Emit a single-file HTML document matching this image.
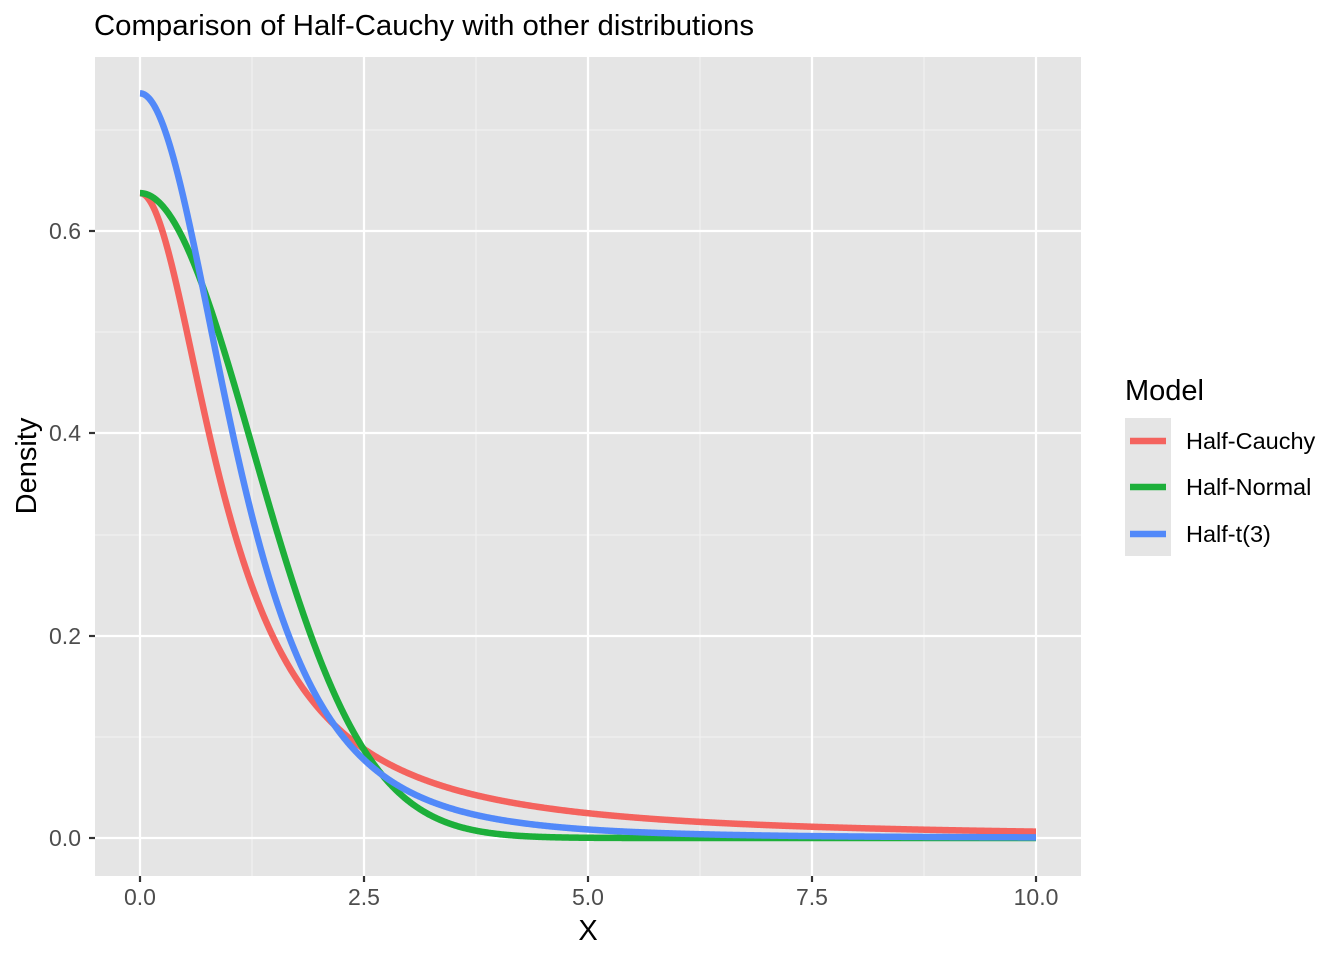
<!DOCTYPE html>
<html><head><meta charset="utf-8"><style>
html,body{margin:0;padding:0;background:#fff;}
svg text{font-family:"Liberation Sans",Arial,sans-serif;}
</style></head><body>
<svg id="s" width="1344" height="960" xmlns="http://www.w3.org/2000/svg">
<rect width="1344" height="960" fill="#fff"/>
<text x="94" y="35" font-size="29" fill="#000" textLength="660" lengthAdjust="spacingAndGlyphs">Comparison of Half-Cauchy with other distributions</text>
<rect x="95" y="57" width="986" height="819" fill="#e5e5e5"/>
<g stroke="#f2f2f2" stroke-width="1.1">
<line x1="252" y1="57" x2="252" y2="876"/><line x1="476" y1="57" x2="476" y2="876"/>
<line x1="700" y1="57" x2="700" y2="876"/><line x1="924" y1="57" x2="924" y2="876"/>
<line x1="95" y1="737" x2="1081" y2="737"/><line x1="95" y1="535" x2="1081" y2="535"/>
<line x1="95" y1="332" x2="1081" y2="332"/><line x1="95" y1="130" x2="1081" y2="130"/>
</g>
<g stroke="#fff" stroke-width="2.2">
<line x1="140" y1="57" x2="140" y2="876"/><line x1="364" y1="57" x2="364" y2="876"/>
<line x1="588" y1="57" x2="588" y2="876"/><line x1="812" y1="57" x2="812" y2="876"/>
<line x1="1036" y1="57" x2="1036" y2="876"/>
<line x1="95" y1="838" x2="1081" y2="838"/><line x1="95" y1="636" x2="1081" y2="636"/>
<line x1="95" y1="433" x2="1081" y2="433"/><line x1="95" y1="231" x2="1081" y2="231"/>
</g>
<g id="curves" fill="none" stroke-width="6.5" stroke-linejoin="round"></g>
<g stroke="#333" stroke-width="2.2">
<line x1="140" y1="876" x2="140" y2="882"/><line x1="364" y1="876" x2="364" y2="882"/>
<line x1="588" y1="876" x2="588" y2="882"/><line x1="812" y1="876" x2="812" y2="882"/>
<line x1="1036" y1="876" x2="1036" y2="882"/>
<line x1="89" y1="838" x2="95" y2="838"/><line x1="89" y1="636" x2="95" y2="636"/>
<line x1="89" y1="433" x2="95" y2="433"/><line x1="89" y1="231" x2="95" y2="231"/>
</g>
<g font-size="23" fill="#4d4d4d" text-anchor="middle">
<text x="140" y="905">0.0</text><text x="364" y="905">2.5</text><text x="588" y="905">5.0</text>
<text x="812" y="905">7.5</text><text x="1036" y="905">10.0</text>
</g>
<g font-size="23" fill="#4d4d4d" text-anchor="end">
<text x="81" y="846">0.0</text><text x="81" y="644">0.2</text><text x="81" y="441">0.4</text><text x="81" y="239">0.6</text>
</g>
<text x="588" y="940" font-size="29" text-anchor="middle" fill="#000">X</text>
<text transform="translate(36,466) rotate(-90)" font-size="29" text-anchor="middle" fill="#000">Density</text>
<text x="1125" y="400" font-size="29" fill="#000">Model</text>
<rect x="1125" y="418" width="46" height="138" fill="#e5e5e5"/>
<g stroke-width="6.5">
<line x1="1130" y1="441" x2="1166" y2="441" stroke="#F4635E"/>
<line x1="1130" y1="487" x2="1166" y2="487" stroke="#1DAF3A"/>
<line x1="1130" y1="534" x2="1166" y2="534" stroke="#5289F9"/>
</g>
<g font-size="23.5" fill="#000">
<text x="1186" y="449">Half-Cauchy</text><text x="1186" y="495">Half-Normal</text><text x="1186" y="542">Half-t(3)</text>
</g>
</svg>
<script>
(function(){
var g=document.getElementById('curves');
function X(x){return 140+x*89.6;}
function Y(y){return 838-y*1013;}
var s=Math.sqrt(Math.PI/2);
var fs=[
 ['#F4635E',function(x){return 2/(Math.PI*(1+x*x));}],
 ['#1DAF3A',function(x){return 2/(Math.sqrt(2*Math.PI)*s)*Math.exp(-x*x/(2*s*s));}],
 ['#5289F9',function(x){return 2*0.36755259694786135*Math.pow(1+x*x/3,-2);}]
];
fs.forEach(function(f){
 var d='';
 for(var i=0;i<=1000;i++){var x=i/100;d+=(i?'L':'M')+X(x).toFixed(2)+','+Y(f[1](x)).toFixed(2);}
 var p=document.createElementNS('http://www.w3.org/2000/svg','path');
 p.setAttribute('d',d);p.setAttribute('stroke',f[0]);g.appendChild(p);
});
})();
</script>
</body></html>
